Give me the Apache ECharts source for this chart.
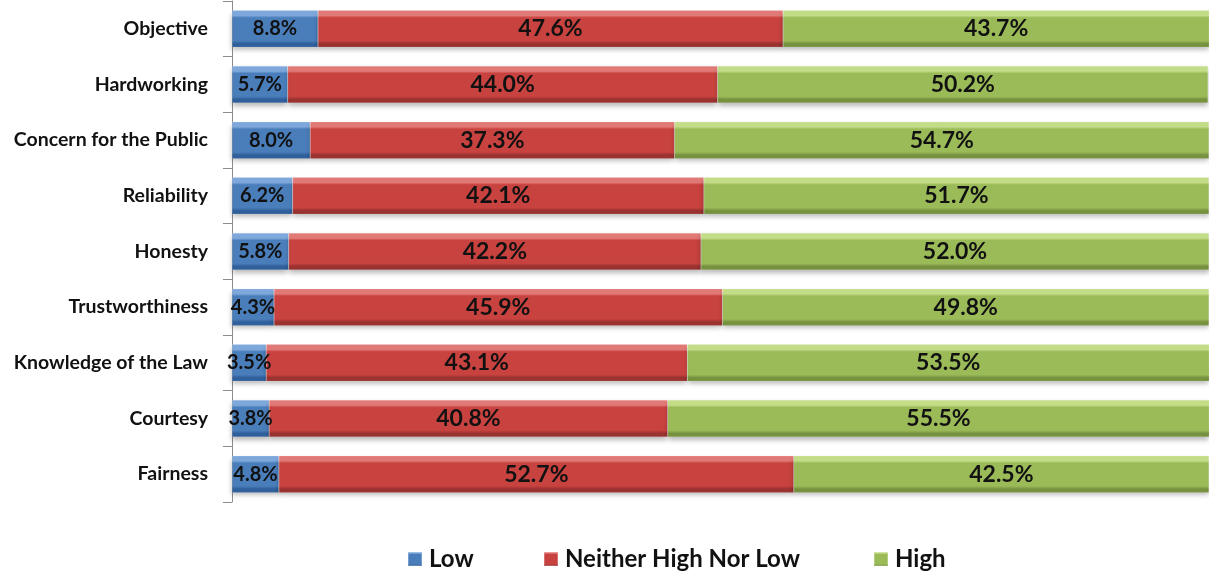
<!DOCTYPE html>
<html>
<head>
<meta charset="utf-8">
<script src="https://cdn.jsdelivr.net/npm/echarts@6/dist/echarts.min.js"></script>
<style>
  html, body { margin: 0; padding: 0; background: #fff; }
  #chart { width: 1209px; height: 573px; }
</style>
</head>
<body>
<div id="chart"></div>
<script>
// Rating categories, top to bottom
const categories = [
  'Objective', 'Hardworking', 'Concern for the Public', 'Reliability', 'Honesty',
  'Trustworthiness', 'Knowledge of the Law', 'Courtesy', 'Fairness'
];
// Share of respondents (%) per rating level
const lowValues     = [8.8, 5.7, 8.0, 6.2, 5.8, 4.3, 3.5, 3.8, 4.8];
const neitherValues = [47.6, 44.0, 37.3, 42.1, 42.2, 45.9, 43.1, 40.8, 52.7];
const highValues    = [43.7, 50.2, 54.7, 51.7, 52.0, 49.8, 53.5, 55.5, 42.5];
const seriesNames = ['Low', 'Neither High Nor Low', 'High'];

const FONT = 'Lato';

// Bevelled fill: light top edge, flat body, dark bottom edge
function bevel(light, main, dark) {
  return new echarts.graphic.LinearGradient(0, 0, 0, 1, [
    { offset: 0, color: light },
    { offset: 0.14, color: light },
    { offset: 0.2, color: main },
    { offset: 0.82, color: main },
    { offset: 0.9, color: dark },
    { offset: 1, color: dark }
  ]);
}
const palette = [
  ['#7fa9dc', '#4a7ebb', '#30609c'],
  ['#e27a77', '#c8423f', '#9a3230'],
  ['#c4dd88', '#9bbb59', '#77923f']
];
const fills = palette.map(c => bevel(c[0], c[1], c[2]));
const legendFills = palette.map(c => bevel(c[0], c[1], c[2]));
const labelSizes = [20, 23, 23];
const legendLeft = [407, 543, 873];

function makeSeries(name, values, idx) {
  return {
    name: name,
    type: 'bar',
    stack: 'total',
    barWidth: 37,
    data: values,
    itemStyle: {
      color: fills[idx],
      borderColor: 'rgba(255,255,255,0.25)',
      borderWidth: 0.5,
      shadowColor: 'rgba(0,0,0,0.28)',
      shadowBlur: 5,
      shadowOffsetY: 3
    },
    label: {
      show: true,
      position: 'inside',
      formatter: p => p.value.toFixed(1) + '%',
      color: '#111',
      fontFamily: FONT,
      fontWeight: 'bold',
      fontSize: labelSizes[idx]
    }
  };
}

const chart = echarts.init(document.getElementById('chart'), null, { renderer: 'canvas' });
chart.setOption({
  animation: false,
  backgroundColor: '#fff',
  grid: { left: 232, right: -1, top: 1, height: 501 },
  xAxis: { type: 'value', min: 0, max: 100, show: false },
  yAxis: {
    type: 'category',
    data: categories,
    inverse: true,
    axisLine: { show: true, lineStyle: { color: '#8c8c8c', width: 1 } },
    axisTick: { show: true, length: 9, lineStyle: { color: '#8c8c8c' } },
    axisLabel: {
      margin: 24,
      color: '#111',
      fontFamily: FONT,
      fontWeight: 'bold',
      fontSize: 19.5
    }
  },
  legend: seriesNames.map((n, i) => ({
    left: legendLeft[i],
    top: 547,
    padding: 0,
    itemWidth: 14,
    itemHeight: 14,
    icon: 'rect',
    textStyle: { color: '#111', fontFamily: FONT, fontWeight: 'bold', fontSize: 24, padding: [0, 0, 0, 2] },
    data: [{ name: n, itemStyle: { color: legendFills[i] } }]
  })),
  series: [
    makeSeries(seriesNames[0], lowValues, 0),
    makeSeries(seriesNames[1], neitherValues, 1),
    makeSeries(seriesNames[2], highValues, 2)
  ]
});
</script>
</body>
</html>
